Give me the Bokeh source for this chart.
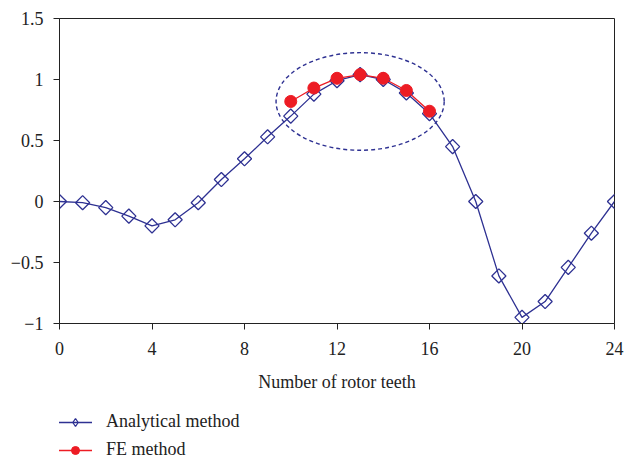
import math
from bokeh.plotting import figure
from bokeh.layouts import column
from bokeh.models import Range1d, FixedTicker, Legend, LegendItem
from bokeh.embed import file_html
from bokeh.resources import INLINE

# data
teeth = list(range(0, 25))
analytical = [0.0, -0.01, -0.05, -0.12, -0.20, -0.15, -0.01, 0.18, 0.35, 0.53,
              0.70, 0.88, 0.99, 1.04, 1.00, 0.89, 0.72, 0.45, 0.0, -0.61,
              -0.95, -0.82, -0.54, -0.26, 0.0]
fe_teeth = [10, 11, 12, 13, 14, 15, 16]
fe_values = [0.82, 0.93, 1.01, 1.04, 1.01, 0.91, 0.74]
x_ticks = [0, 4, 8, 12, 16, 20, 24]
y_ticks = [-1, -0.5, 0, 0.5, 1, 1.5]
y_tick_labels = ["\u22121", "\u22120.5", "0", "0.5", "1", "1.5"]
series_names = ["Analytical method", "FE method"]
# highlight ellipse around FE region
ell_x = [13]
ell_y = [0.82]
ell_w = [7.27]
ell_h = [0.80]

BLUE = "#2e3192"
RED = "#ed1c24"
FONT = "Liberation Serif"
TXT = "#222222"
DIAMOND = dict(marker="square", angle=math.pi / 4, size=10, fill_color="white",
               fill_alpha=0.0, line_color=BLUE, line_width=1.3)
DIAMOND_LEG = dict(marker="diamond", size=15, fill_color="white",
                   fill_alpha=0.0, line_color=BLUE, line_width=1.3)
DOT = dict(marker="circle", size=12, fill_color=RED, line_color=RED)

p = figure(width=624, height=400, output_backend="svg", toolbar_location=None,
           x_range=Range1d(0, 24), y_range=Range1d(-1, 1.5),
           min_border_left=59, min_border_right=10, min_border_top=18,
           min_border_bottom=77)
p.grid.visible = False
p.outline_line_color = TXT
p.outline_line_width = 1

p.xaxis.ticker = FixedTicker(ticks=x_ticks)
p.yaxis.ticker = FixedTicker(ticks=y_ticks)
p.yaxis.major_label_overrides = {float(t): l for t, l in zip(y_ticks, y_tick_labels)}
for ax in (p.xaxis, p.yaxis):
    ax.minor_tick_line_color = None
    ax.major_tick_out = 6
    ax.major_tick_in = 0
    ax.axis_line_color = TXT
    ax.major_tick_line_color = TXT
    ax.major_label_text_font = FONT
    ax.major_label_text_font_size = "18px"
    ax.major_label_text_color = TXT
p.xaxis.major_label_standoff = 12
p.yaxis.major_label_standoff = 10
p.xaxis.axis_label = "Number of rotor teeth"
p.xaxis.axis_label_text_font = FONT
p.xaxis.axis_label_text_font_style = "normal"
p.xaxis.axis_label_text_font_size = "18px"
p.xaxis.axis_label_text_color = TXT
p.xaxis.axis_label_standoff = 14

p.ellipse(x=ell_x, y=ell_y, width=ell_w, height=ell_h, fill_color=None,
          line_color=BLUE, line_width=1.4, line_dash="4 3")

p.line(teeth, analytical, line_color=BLUE, line_width=1.3)
p.scatter(teeth, analytical, **DIAMOND)
p.line(fe_teeth, fe_values, line_color=RED, line_width=1.3)
p.scatter(fe_teeth, fe_values, **DOT)

# legend strip below the chart (proxy renderers lie outside its visible range)
lf = figure(width=624, height=58, output_backend="svg", toolbar_location=None,
            x_range=Range1d(0, 1), y_range=Range1d(0, 1),
            x_axis_location=None, y_axis_location=None,
            min_border_left=0, min_border_right=0, min_border_top=0,
            min_border_bottom=0)
lf.grid.visible = False
lf.outline_line_color = None
la_l = lf.line([-10, -9], [-10, -10], line_color=BLUE, line_width=1.3)
la_m = lf.scatter([-10], [-10], **DIAMOND_LEG)
lb_l = lf.line([-10, -9], [-10, -10], line_color=RED, line_width=1.3)
lb_m = lf.scatter([-10], [-10], **DOT)

legend = Legend(items=[LegendItem(label=series_names[0], renderers=[la_l, la_m]),
                       LegendItem(label=series_names[1], renderers=[lb_l, lb_m])],
                location=(-1, -2), orientation="vertical")
legend.border_line_color = None
legend.background_fill_alpha = 0
legend.label_text_font = FONT
legend.label_text_font_size = "18px"
legend.label_text_color = TXT
legend.glyph_width = 34
legend.glyph_height = 20
legend.label_height = 20
legend.spacing = 7
legend.padding = 0
legend.margin = 0
legend.label_standoff = 14
lf.add_layout(legend)

layout = column(p, lf, spacing=0)
open("out.html", "w").write(file_html(layout, INLINE))
